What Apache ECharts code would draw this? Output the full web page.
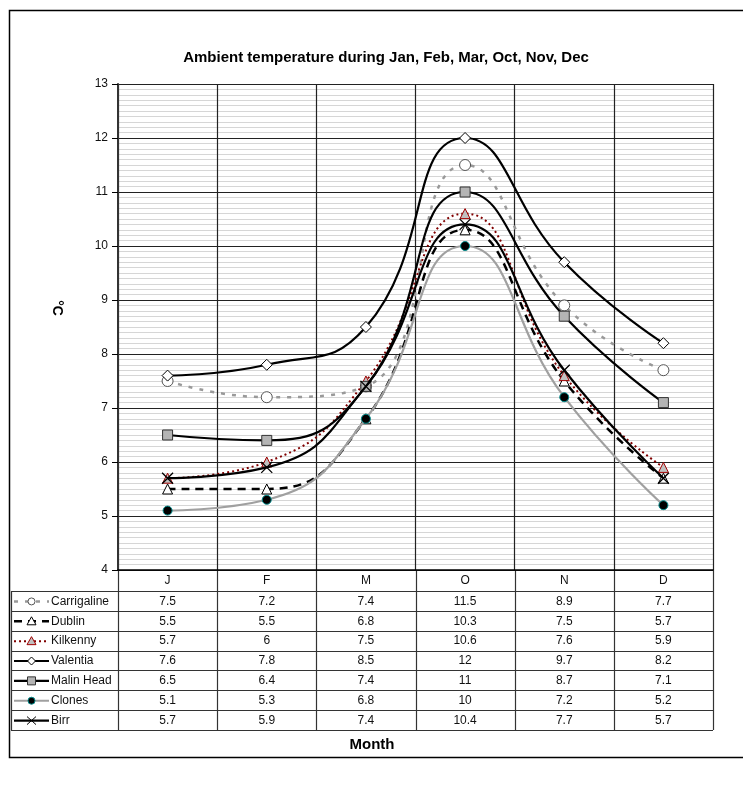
<!DOCTYPE html>
<html>
<head>
<meta charset="utf-8">
<script src="https://cdn.jsdelivr.net/npm/echarts@6/dist/echarts.min.js"></script>
<style>
html,body{margin:0;padding:0;background:#fff;}
#chart{width:743px;height:785px;}
</style>
</head>
<body>
<div id="chart"></div>
<script>
// Monthly mean ambient temperature (°C) by station
const months = ['J', 'F', 'M', 'O', 'N', 'D'];
const stations = ['Carrigaline', 'Dublin', 'Kilkenny', 'Valentia', 'Malin Head', 'Clones', 'Birr'];
const carrigaline = [7.5, 7.2, 7.4, 11.5, 8.9, 7.7];
const dublin      = [5.5, 5.5, 6.8, 10.3, 7.5, 5.7];
const kilkenny    = [5.7, 6, 7.5, 10.6, 7.6, 5.9];
const valentia    = [7.6, 7.8, 8.5, 12, 9.7, 8.2];
const malinHead   = [6.5, 6.4, 7.4, 11, 8.7, 7.1];
const clones      = [5.1, 5.3, 6.8, 10, 7.2, 5.2];
const birr        = [5.7, 5.9, 7.4, 10.4, 7.7, 5.7];
const yTicks = { min: 4, max: 13, step: 1 };

const seriesData = [carrigaline, dublin, kilkenny, valentia, malinHead, clones, birr];

const FONT = "'Liberation Sans', Arial, sans-serif";

// Plot frame
const G = { left: 118, top: 84, width: 595, height: 486 };

// Line + marker styles, one per station
const styles = [
  { line: '#999999', width: 2.5, dash: [4, 7], marker: 'circle', fill: '#ffffff', stroke: '#555555', size: 11 },
  { line: '#000000', width: 2.5, dash: [8, 6], marker: 'triangle', fill: '#ffffff', stroke: '#000000', size: 10 },
  { line: '#800000', width: 2, dash: [2, 3], marker: 'triangle', fill: '#c0c0c0', stroke: '#a00000', size: 10 },
  { line: '#000000', width: 2.2, dash: 'solid', marker: 'diamond', fill: '#ffffff', stroke: '#000000', size: 11 },
  { line: '#000000', width: 2.2, dash: 'solid', marker: 'rect', fill: '#b4b4b4', stroke: '#333333', size: 10 },
  { line: '#a0a0a0', width: 2.2, dash: 'solid', marker: 'circle', fill: '#000000', stroke: '#008b8b', size: 9 },
  { line: '#000000', width: 2.2, dash: 'solid', marker: 'cross', fill: 'transparent', stroke: '#000000', size: 11 }
];

const CROSS = 'path://M0,0L10,10M10,0L0,10';

const series = stations.map(function (name, i) {
  const s = styles[i];
  return {
    name: name,
    type: 'line',
    smooth: 0.5,
    data: seriesData[i],
    symbol: s.marker === 'cross' ? CROSS : s.marker,
    symbolSize: s.size,
    showAllSymbol: true,
    lineStyle: { color: s.line, width: s.width, type: s.dash, cap: 'butt' },
    itemStyle: { color: s.fill, borderColor: s.stroke, borderWidth: s.marker === 'cross' ? 1.3 : 1 },
    emphasis: { disabled: true },
    z: 3 + i
  };
});

// Data table beneath the plot
const colW = G.width / months.length;
const tableTop = G.top + G.height;       // header row top
const headerH = 21;
const rowTop = tableTop + headerH;
const rowH = 19.86;
const tableLeft = 11;
const tableBottom = rowTop + rowH * stations.length;
const gridColor = '#333333';

const graphic = [];

// outer chart border
graphic.push({ type: 'rect', shape: { x: 9.5, y: 10.5, width: 760, height: 747 },
  style: { fill: 'none', stroke: '#000', lineWidth: 1.5 }, silent: true });

// horizontal table lines
for (let r = 0; r <= stations.length; r++) {
  const y = Math.round(rowTop + r * rowH) + 0.5;
  graphic.push({ type: 'line', shape: { x1: tableLeft, y1: y, x2: G.left + G.width, y2: y },
    style: { stroke: gridColor, lineWidth: 1.2 }, silent: true });
}
// vertical table lines
graphic.push({ type: 'line', shape: { x1: tableLeft + 0.5, y1: rowTop, x2: tableLeft + 0.5, y2: tableBottom },
  style: { stroke: gridColor, lineWidth: 1.2 }, silent: true });
for (let c = 0; c <= months.length; c++) {
  const x = Math.round(G.left + c * colW) + 0.5;
  graphic.push({ type: 'line', shape: { x1: x, y1: tableTop, x2: x, y2: tableBottom },
    style: { stroke: gridColor, lineWidth: 1.2 }, silent: true });
}

// legend keys + station names + values
function markerShape(kind, cx, cy, fill, stroke) {
  const st = { fill: fill, stroke: stroke, lineWidth: 1 };
  if (kind === 'circle') return [{ type: 'circle', shape: { cx: cx, cy: cy, r: 3.5 }, style: st }];
  if (kind === 'triangle') return [{ type: 'polygon', shape: { points: [[cx, cy - 4.5], [cx + 4.5, cy + 3.5], [cx - 4.5, cy + 3.5]] }, style: st }];
  if (kind === 'diamond') return [{ type: 'polygon', shape: { points: [[cx, cy - 4], [cx + 4, cy], [cx, cy + 4], [cx - 4, cy]] }, style: st }];
  if (kind === 'rect') return [{ type: 'rect', shape: { x: cx - 4, y: cy - 4, width: 8, height: 8 }, style: st }];
  return [
    { type: 'line', shape: { x1: cx - 4.5, y1: cy - 4, x2: cx + 4.5, y2: cy + 4 }, style: { stroke: stroke, lineWidth: 1 } },
    { type: 'line', shape: { x1: cx + 4.5, y1: cy - 4, x2: cx - 4.5, y2: cy + 4 }, style: { stroke: stroke, lineWidth: 1 } }
  ];
}

stations.forEach(function (name, i) {
  const s = styles[i];
  const cy = rowTop + rowH * i + rowH / 2 + 0.5;
  graphic.push({ type: 'line', shape: { x1: 14, y1: cy, x2: 49, y2: cy },
    style: { stroke: s.line, lineWidth: s.width, lineDash: s.dash === 'solid' ? null : s.dash }, silent: true });
  markerShape(s.marker, 31.5, cy, s.fill, s.stroke).forEach(function (m) { m.silent = true; graphic.push(m); });
  graphic.push({ type: 'text', x: 51, y: cy, silent: true,
    style: { text: name, font: '12px ' + FONT, fill: '#111', align: 'left', verticalAlign: 'middle' } });
  seriesData[i].forEach(function (v, c) {
    graphic.push({ type: 'text', x: G.left + colW * (c + 0.5), y: cy, silent: true,
      style: { text: String(v), font: '12px ' + FONT, fill: '#111', align: 'center', verticalAlign: 'middle' } });
  });
});

// y axis title
graphic.push({ type: 'text', x: 57, y: 308, rotation: -Math.PI / 2, silent: true,
  style: { text: '°C', font: 'bold 14px ' + FONT, fill: '#000', align: 'center', verticalAlign: 'middle' } });

// x axis title
graphic.push({ type: 'text', x: 372, y: 745, silent: true,
  style: { text: 'Month', font: 'bold 15px ' + FONT, fill: '#000', align: 'center', verticalAlign: 'middle' } });

const chart = echarts.init(document.getElementById('chart'), null, { renderer: 'canvas' });
chart.setOption({
  animation: false,
  backgroundColor: '#ffffff',
  title: {
    text: 'Ambient temperature during Jan, Feb, Mar, Oct, Nov, Dec',
    left: 381, top: 45, textAlign: 'center',
    textStyle: { fontFamily: FONT, fontSize: 15, fontWeight: 'bold', color: '#000' }
  },
  grid: { left: G.left, top: G.top, width: G.width, height: G.height, containLabel: false },
  xAxis: {
    type: 'category',
    data: months,
    boundaryGap: true,
    axisLine: { show: true, lineStyle: { color: '#000', width: 1.5 } },
    axisTick: { show: false },
    axisLabel: { margin: 5, fontFamily: FONT, fontSize: 12, color: '#111' },
    splitLine: { show: true, lineStyle: { color: '#222', width: 1.2 } }
  },
  yAxis: {
    type: 'value',
    min: yTicks.min, max: yTicks.max, interval: yTicks.step,
    axisLine: { show: true, lineStyle: { color: '#333', width: 2 } },
    axisTick: { show: true, length: 6, lineStyle: { color: '#000', width: 1 } },
    axisLabel: { margin: 10, fontFamily: FONT, fontSize: 12, color: '#111' },
    splitLine: { show: true, lineStyle: { color: '#222', width: 1.2 } },
    minorTick: { show: false, splitNumber: 10 },
    minorSplitLine: { show: true, lineStyle: { color: '#d6d6d6', width: 1.2 } }
  },
  series: series,
  graphic: graphic
});
</script>
</body>
</html>
